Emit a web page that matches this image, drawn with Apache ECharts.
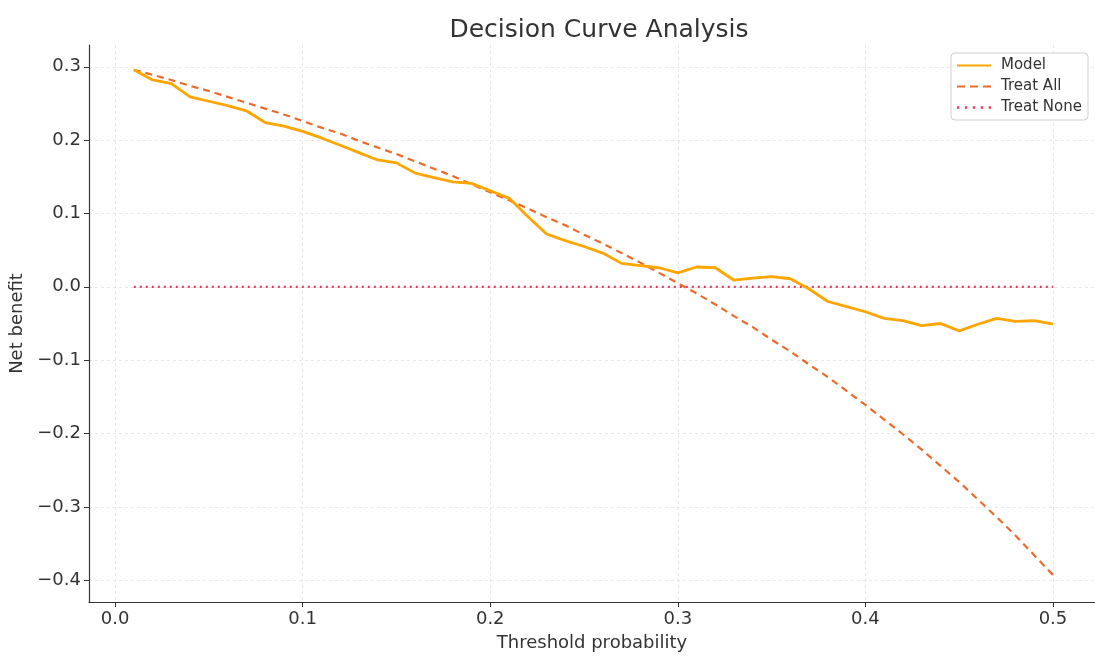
<!DOCTYPE html>
<html>
<head>
<meta charset="utf-8">
<title>Decision Curve Analysis</title>
<script src="https://cdn.jsdelivr.net/npm/echarts@6/dist/echarts.min.js"></script>
<style>
  html, body { margin: 0; padding: 0; background: #fff; }
  #chart { width: 1095px; height: 657px; }
</style>
</head>
<body>
<div id="chart"></div>
<script>
// threshold probabilities (x)
var thresholds = [0.01, 0.02, 0.03, 0.04, 0.05, 0.06, 0.07, 0.08, 0.09, 0.10,
  0.11, 0.12, 0.13, 0.14, 0.15, 0.16, 0.17, 0.18, 0.19, 0.20,
  0.21, 0.22, 0.23, 0.24, 0.25, 0.26, 0.27, 0.28, 0.29, 0.30,
  0.31, 0.32, 0.33, 0.34, 0.35, 0.36, 0.37, 0.38, 0.39, 0.40,
  0.41, 0.42, 0.43, 0.44, 0.45, 0.46, 0.47, 0.48, 0.49, 0.50];

// net benefit of the model
var modelNB = [0.296, 0.282, 0.277, 0.259, 0.253, 0.247, 0.240, 0.224, 0.219, 0.212,
  0.203, 0.193, 0.183, 0.173, 0.169, 0.155, 0.149, 0.143, 0.141, 0.131,
  0.121, 0.096, 0.072, 0.063, 0.055, 0.046, 0.032, 0.029, 0.026, 0.019,
  0.027, 0.026, 0.009, 0.012, 0.014, 0.011, -0.003, -0.020, -0.027, -0.034,
  -0.043, -0.046, -0.053, -0.050, -0.060, -0.051, -0.043, -0.047, -0.046, -0.051];

// net benefit of treating everyone
var treatAllNB = [0.296, 0.289, 0.282, 0.274, 0.267, 0.259, 0.251, 0.243, 0.235, 0.226,
  0.217, 0.209, 0.199, 0.190, 0.181, 0.171, 0.161, 0.151, 0.140, 0.129,
  0.118, 0.107, 0.095, 0.084, 0.071, 0.059, 0.046, 0.033, 0.019, 0.005,
  -0.009, -0.024, -0.040, -0.055, -0.072, -0.088, -0.106, -0.123, -0.142, -0.161,
  -0.181, -0.201, -0.222, -0.244, -0.266, -0.290, -0.314, -0.339, -0.366, -0.393];

// net benefit of treating no one
var treatNoneNB = [0, 0, 0, 0, 0, 0, 0, 0, 0, 0,
  0, 0, 0, 0, 0, 0, 0, 0, 0, 0,
  0, 0, 0, 0, 0, 0, 0, 0, 0, 0,
  0, 0, 0, 0, 0, 0, 0, 0, 0, 0,
  0, 0, 0, 0, 0, 0, 0, 0, 0, 0];

var xTicks = [0, 0.1, 0.2, 0.3, 0.4, 0.5];
var yTicks = [-0.4, -0.3, -0.2, -0.1, 0, 0.1, 0.2, 0.3];

function pairs(ys) {
  return thresholds.map(function (x, i) { return [x, ys[i]]; });
}

var myChart = echarts.init(document.getElementById('chart'));
var font = 'DejaVu Sans';
var gridLine = { show: true, lineStyle: { color: '#e3e3e3', type: [3, 3], width: 0.8 } };

var option = {
  animation: false,
  textStyle: { fontFamily: font },
  title: {
    text: 'Decision Curve Analysis',
    left: 594,
    textAlign: 'center',
    top: 13,
    textStyle: { fontFamily: font, fontSize: 25, fontWeight: 'normal', color: '#333' }
  },
  legend: {
    right: 7,
    top: 53,
    orient: 'vertical',
    itemGap: 6,
    itemWidth: 34,
    itemHeight: 16,
    padding: [5, 6, 5, 6],
    borderColor: '#d0d0d0',
    borderWidth: 1,
    borderRadius: 4,
    backgroundColor: '#fff',
    textStyle: { fontFamily: font, fontSize: 15, color: '#333', padding: [0, 0, 0, 5] },
    data: [
      { name: 'Model', icon: 'path://M0,7 L34,7 L34,9 L0,9 Z' },
      { name: 'Treat All', icon: 'path://M0,7 L8,7 L8,9 L0,9 Z M13,7 L21,7 L21,9 L13,9 Z M26,7 L34,7 L34,9 L26,9 Z' },
      { name: 'Treat None', icon: 'path://M1,7 L3,7 L3,9 L1,9 Z M8,7 L10,7 L10,9 L8,9 Z M15,7 L17,7 L17,9 L15,9 Z M22,7 L24,7 L24,9 L22,9 Z M29,7 L31,7 L31,9 L29,9 Z' }
    ]
  },
  grid: { left: 89, right: 0, top: 45, bottom: 50, containLabel: false },
  xAxis: {
    type: 'value',
    min: -0.0139,
    max: 0.5224,
    name: 'Threshold probability',
    nameLocation: 'middle',
    nameGap: 32,
    nameTextStyle: { fontFamily: font, fontSize: 18, color: '#333' },
    axisLine: { show: true, onZero: false, lineStyle: { color: '#333', width: 1.2 } },
    axisTick: { show: true, customValues: xTicks, length: 5, lineStyle: { color: '#333' } },
    axisLabel: {
      customValues: xTicks,
      fontSize: 18, color: '#333', margin: 8,
      formatter: function (v) { return v.toFixed(1); }
    },
    splitLine: gridLine
  },
  yAxis: {
    type: 'value',
    min: -0.4297,
    max: 0.3297,
    name: 'Net benefit',
    nameLocation: 'middle',
    nameGap: 62,
    nameTextStyle: { fontFamily: font, fontSize: 18, color: '#333' },
    axisLine: { show: true, onZero: false, lineStyle: { color: '#333', width: 1.2 } },
    axisTick: { show: true, customValues: yTicks, length: 5, lineStyle: { color: '#333' } },
    axisLabel: {
      customValues: yTicks,
      fontSize: 18, color: '#333', margin: 8,
      formatter: function (v) { return v.toFixed(1).replace('-', '\u2212'); }
    },
    splitLine: gridLine
  },
  series: [
    {
      name: 'Model',
      type: 'line',
      data: pairs(modelNB),
      showSymbol: false,
      color: '#FFA500',
      lineStyle: { width: 2.8, color: '#FFA500' },
      z: 3
    },
    {
      name: 'Treat All',
      type: 'line',
      data: pairs(treatAllNB),
      showSymbol: false,
      color: '#EE6A2A',
      lineStyle: { width: 2.2, type: [7, 5], color: '#EE6A2A' },
      z: 2
    },
    {
      name: 'Treat None',
      type: 'line',
      data: pairs(treatNoneNB),
      showSymbol: false,
      color: '#F0375C',
      lineStyle: { width: 2.2, type: [2, 4], color: '#F0375C' },
      z: 2
    }
  ]
};

myChart.setOption(option);
</script>
</body>
</html>
